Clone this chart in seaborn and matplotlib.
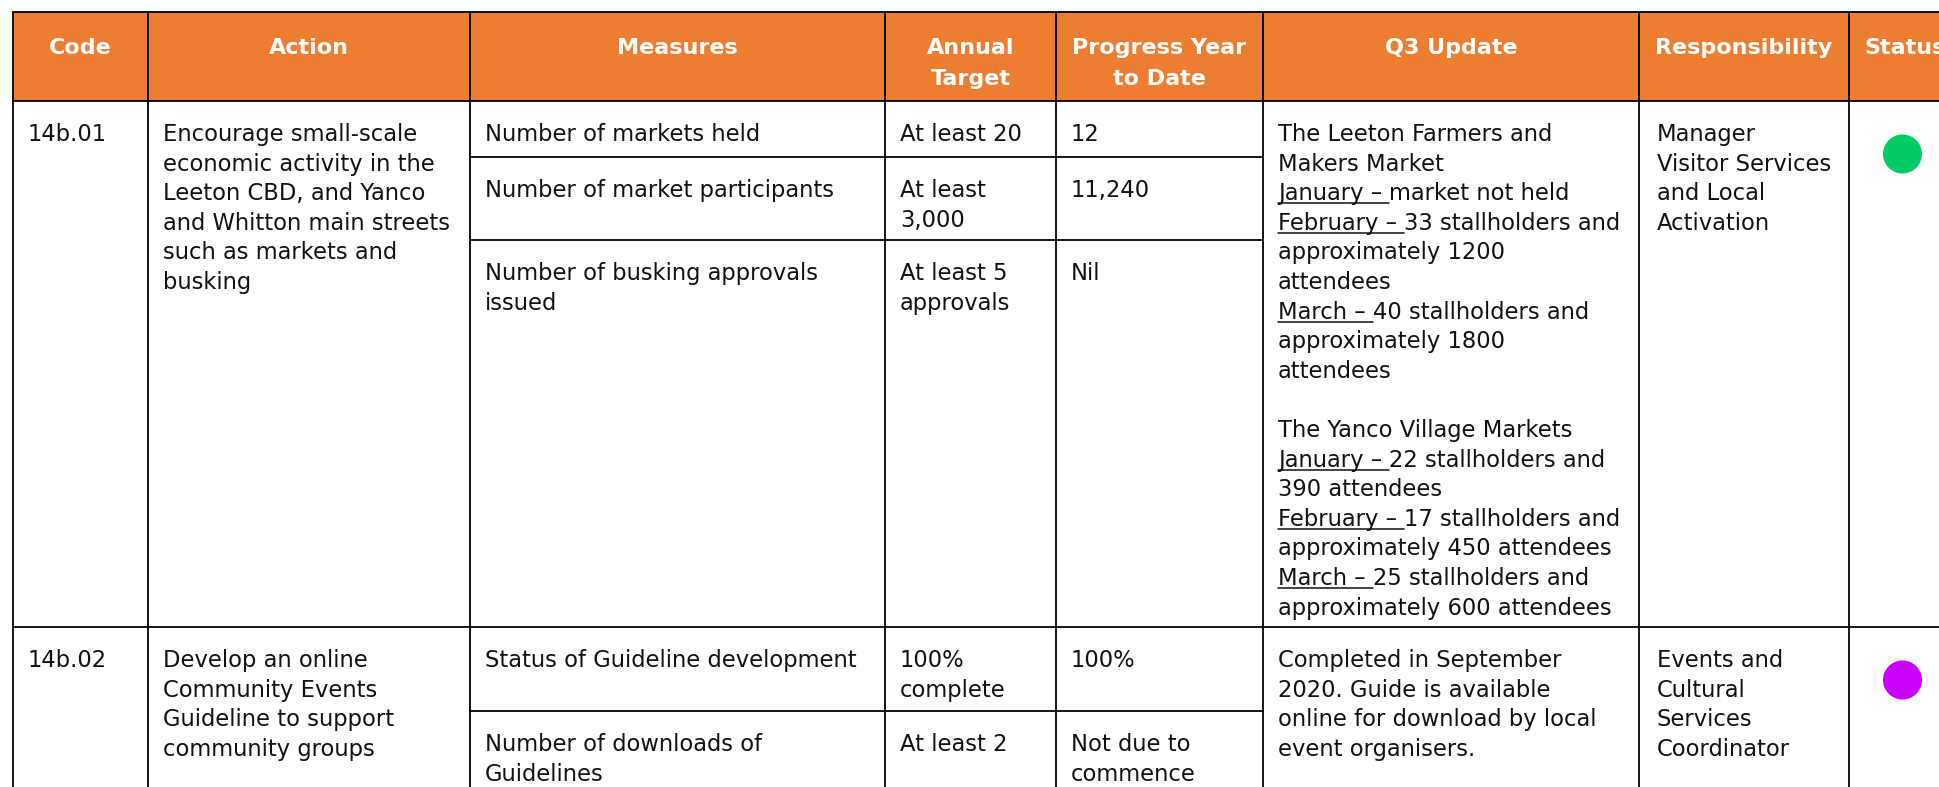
import numpy as np
import pandas as pd
import seaborn as sns
import matplotlib.pyplot as plt
from matplotlib.patches import Rectangle, Circle

sns.set_theme(style="white")
plt.rcParams['font.family'] = ['DejaVu Sans']

# %%
# table content
headers = ["Code", "Action", "Measures", "Annual\nTarget", "Progress Year\nto Date",
           "Q3 Update", "Responsibility", "Status"]
codes = ["14b.01", "14b.02"]
actions = [
    "Encourage small-scale\neconomic activity in the\nLeeton CBD, and Yanco\nand Whitton main streets\nsuch as markets and\nbusking",
    "Develop an online\nCommunity Events\nGuideline to support\ncommunity groups",
]
measures = [
    ["Number of markets held", "Number of market participants", "Number of busking approvals\nissued"],
    ["Status of Guideline development", "Number of downloads of\nGuidelines"],
]
targets = [
    ["At least 20", "At least\n3,000", "At least 5\napprovals"],
    ["100%\ncomplete", "At least 2"],
]
progress = [
    ["12", "11,240", "Nil"],
    ["100%", "Not due to\ncommence"],
]
# (underlined part, rest of line)
q3_updates = [
    [("", "The Leeton Farmers and"), ("", "Makers Market"),
     ("January – ", "market not held"), ("February – ", "33 stallholders and"),
     ("", "approximately 1200"), ("", "attendees"),
     ("March – ", "40 stallholders and"), ("", "approximately 1800"), ("", "attendees"),
     ("", ""),
     ("", "The Yanco Village Markets"), ("January – ", "22 stallholders and"),
     ("", "390 attendees"), ("February – ", "17 stallholders and"),
     ("", "approximately 450 attendees"), ("March – ", "25 stallholders and"),
     ("", "approximately 600 attendees")],
    [("", "Completed in September"), ("", "2020. Guide is available"),
     ("", "online for download by local"), ("", "event organisers.")],
]
responsibility = ["Manager\nVisitor Services\nand Local\nActivation",
                  "Events and\nCultural\nServices\nCoordinator"]
status_colors = ["#00CC66", "#CC00FF"]

# %%
# layout (pixels)
W, H = 1939, 787
col_edges = [13, 148, 470, 885, 1056, 1263, 1639, 1849, 1962]
head_top, head_bot = 12, 101
row_tops = [101, 627, 900]
sub_lines = [[157, 240], [711]]
pad = 15
base_off = 40
step = 29.6
orange = "#ED7D31"
fs = 16.3
lw = 1.3

fig = plt.figure(figsize=(W / 100, H / 100), dpi=100)
ax = fig.add_axes([0, 0, 1, 1])
ax.set_xlim(0, W)
ax.set_ylim(H, 0)
ax.axis('off')

# header
ax.add_patch(Rectangle((col_edges[0], head_top), col_edges[-1] - col_edges[0],
                       head_bot - head_top, facecolor=orange, edgecolor='none'))
for i, h in enumerate(headers):
    cx = (col_edges[i] + col_edges[i + 1]) / 2
    for j, line in enumerate(h.split("\n")):
        ax.text(cx, 54 + j * 31, line, color='white', fontsize=16, fontweight='bold',
                ha='center', va='baseline')

# grid lines
ax.plot([col_edges[0], col_edges[-1]], [head_top, head_top], color='black', lw=lw)
for y in row_tops[:-1]:
    ax.plot([col_edges[0], col_edges[-1]], [y, y], color='black', lw=lw)
for x in col_edges[:-1]:
    ax.plot([x, x], [head_top, row_tops[-1]], color='black', lw=lw)
for r, ys in enumerate(sub_lines):
    for y in ys:
        ax.plot([col_edges[2], col_edges[5]], [y, y], color='black', lw=lw)


def cell_text(x, top, txt):
    for j, line in enumerate(txt.split("\n")):
        ax.text(x, top + base_off + j * step, line, fontsize=fs, color='#111111',
                ha='left', va='baseline')


fig.canvas.draw()
renderer = fig.canvas.get_renderer()
inv = ax.transData.inverted()

for r in range(len(codes)):
    top = row_tops[r]
    cell_text(col_edges[0] + pad, top, codes[r])
    cell_text(col_edges[1] + pad, top, actions[r])
    sub_tops = [top] + sub_lines[r]
    for k in range(len(measures[r])):
        cell_text(col_edges[2] + pad, sub_tops[k], measures[r][k])
        cell_text(col_edges[3] + pad, sub_tops[k], targets[r][k])
        cell_text(col_edges[4] + pad, sub_tops[k], progress[r][k])
    # Q3 update with underlined month prefixes
    x0 = col_edges[5] + pad
    for j, (u, rest) in enumerate(q3_updates[r]):
        yb = top + base_off + j * step
        x = x0
        if u:
            t = ax.text(x, yb, u, fontsize=fs, color='#111111', ha='left', va='baseline')
            bb = t.get_window_extent(renderer)
            x1 = inv.transform((bb.x1, bb.y0))[0]
            ax.plot([x, x1], [yb + 3, yb + 3], color='#111111', lw=1.1)
            x = x1
        if rest:
            ax.text(x, yb, rest, fontsize=fs, color='#111111', ha='left', va='baseline')
    cell_text(col_edges[6] + pad + 3, top, responsibility[r])
    cx = (col_edges[7] + col_edges[8]) / 2 - 3
    ax.add_patch(Circle((cx, top + 53), 19.5, facecolor=status_colors[r], edgecolor='none'))

fig.savefig("out.png", dpi=100)
